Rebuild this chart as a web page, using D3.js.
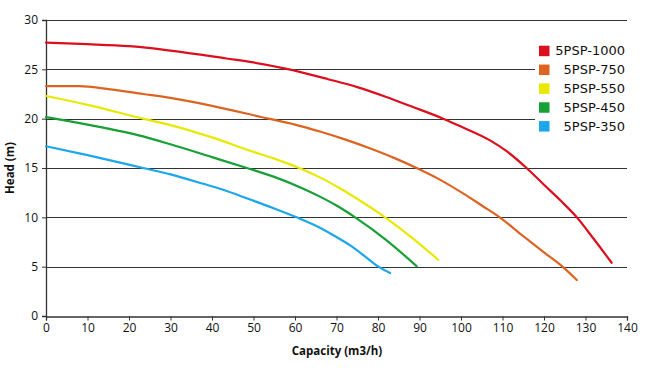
<!DOCTYPE html>
<html>
<head>
<meta charset="utf-8">
<script src="https://cdn.jsdelivr.net/npm/d3@7"></script>
<style>
  html, body { margin: 0; padding: 0; background: #fff; }
  svg { display: block; }
</style>
</head>
<body>
<svg id="chart" width="650" height="370"></svg>
<script>
const seriesNames = ["5PSP-1000", "5PSP-750", "5PSP-550", "5PSP-450", "5PSP-350"];
const seriesColors = ["#dc0f1e", "#dd6420", "#e8e800", "#16a035", "#1ca6ec"];

const red1000 = [[0,27.7],[10,27.55],[20,27.35],[23,27.25],[30,26.9],[43.5,26.1],[50,25.7],[58,25.05],[68,24.0],[75,23.2],[82,22.2],[88,21.25],[95.7,20.0],[100,19.2],[107,17.8],[111,16.7],[115.8,15.0],[120,13.3],[124,11.7],[127.9,10.0],[132,7.8],[136.3,5.4]];
const orange750 = [[0,23.3],[8,23.3],[15,23.0],[23.4,22.5],[30,22.1],[40,21.3],[53.6,20.0],[60,19.4],[66,18.7],[72,17.9],[78,17.0],[84,16.0],[89.3,15.0],[95,13.8],[100.6,12.4],[105,11.2],[109,10.1],[115,8.1],[120,6.45],[123.9,5.2],[127.9,3.65]];
const yellow550 = [[0,22.3],[10,21.4],[23.4,20.0],[30,19.35],[40,18.1],[49.2,16.75],[55,15.95],[61,15.0],[66,14.05],[70.8,12.95],[76,11.6],[81.7,10.0],[88,8.0],[94.5,5.7]];
const green450 = [[0,20.15],[10,19.4],[23.4,18.2],[30,17.4],[40,16.1],[48.4,15.0],[55,14.1],[62,12.9],[66,12.1],[70,11.2],[74.5,10.0],[82,7.7],[89.3,5.05]];
const blue350 = [[0,17.2],[10,16.3],[23.4,15.0],[30,14.35],[37.9,13.4],[42.3,12.85],[49.2,11.8],[55,10.9],[60.4,10.0],[66,8.95],[70,8.0],[73.3,7.15],[77,6.0],[80.1,5.0],[82.9,4.35]];

const xTicks = [0,10,20,30,40,50,60,70,80,90,100,110,120,130,140];
const yTicks = [0,5,10,15,20,25,30];
const xLabel = "Capacity (m3/h)";
const yLabel = "Head (m)";

const seriesData = [red1000, orange750, yellow550, green450, blue350];

const svg = d3.select("#chart");
const x = d3.scaleLinear().domain([0, 140]).range([46, 627]);
const y = d3.scaleLinear().domain([0, 30]).range([316, 20]);

// gridlines
svg.append("g").selectAll("line").data(yTicks.filter(d => d > 0)).join("line")
  .attr("x1", x(0)).attr("x2", x(140))
  .attr("y1", d => Math.round(y(d)) + 0.5).attr("y2", d => Math.round(y(d)) + 0.5)
  .attr("stroke", "#333").attr("stroke-width", 1);

// axes
const tickFont = "'Open Sans', sans-serif";
const yAxis = svg.append("g").attr("transform", `translate(${x(0)},0)`)
  .call(d3.axisLeft(y).tickValues(yTicks).tickSize(4).tickPadding(4));
const xAxis = svg.append("g").attr("transform", `translate(0,${Math.round(y(0)) + 0.5})`)
  .call(d3.axisBottom(x).tickValues(xTicks).tickSize(4).tickPadding(3));
[xAxis, yAxis].forEach(a => {
  a.select(".domain").attr("stroke", "#333").attr("stroke-width", 1.3);
  a.selectAll(".tick line").attr("stroke", "#333");
  a.selectAll("text").attr("font-family", tickFont).attr("font-size", 12).attr("fill", "#111");
});

// lines
const line = d3.line().x(d => x(d[0])).y(d => y(d[1])).curve(d3.curveMonotoneX);
svg.append("g").selectAll("path").data(seriesData).join("path")
  .attr("d", line)
  .attr("fill", "none")
  .attr("stroke", (d, i) => seriesColors[i])
  .attr("stroke-width", 2.2)
  .attr("stroke-linejoin", "round")
  .attr("stroke-linecap", "round");

// legend
const lg = svg.append("g");
lg.append("rect").attr("x", 535).attr("y", 40).attr("width", 100).attr("height", 96).attr("fill", "#fff");
const rows = lg.selectAll("g.row").data(seriesNames).join("g").attr("class", "row")
  .attr("transform", (d, i) => `translate(0,${50.7 + i * 18.85})`);
rows.append("rect").attr("x", 539).attr("y", -5).attr("width", 10.5).attr("height", 10.5)
  .attr("fill", (d, i) => seriesColors[i]);
rows.append("text").attr("x", 625).attr("y", 0).attr("dy", "0.36em")
  .attr("text-anchor", "end")
  .attr("font-family", "'DejaVu Sans', Verdana, sans-serif").attr("font-size", 13)
  .attr("fill", "#111").text(d => d);

// axis titles
svg.append("text").attr("x", 337).attr("y", 355).attr("text-anchor", "middle")
  .attr("font-family", tickFont).attr("font-weight", "bold").attr("font-size", 11.5)
  .attr("fill", "#111").text(xLabel);
svg.append("text").attr("transform", "translate(14,168) rotate(-90)").attr("text-anchor", "middle")
  .attr("font-family", tickFont).attr("font-weight", "bold").attr("font-size", 11.5)
  .attr("fill", "#111").text(yLabel);
</script>
</body>
</html>
